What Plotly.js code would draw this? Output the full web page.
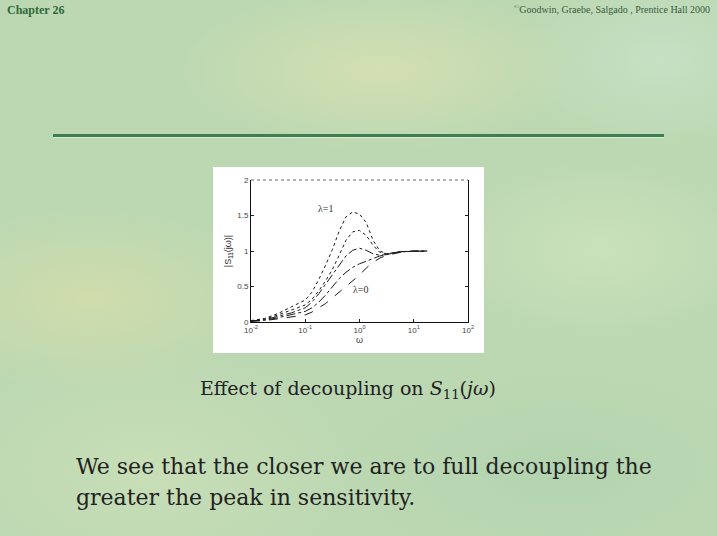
<!DOCTYPE html>
<html>
<head>
<meta charset="utf-8">
<script src="https://cdn.plot.ly/plotly-3.0.1.min.js"></script>
<style>
html,body{margin:0;padding:0;width:717px;height:536px;overflow:hidden;}
body{
 background-color:#bcd8b2;
 background-image:
  radial-gradient(ellipse 180px 90px at 90px 300px, rgba(215,222,170,0.75), rgba(215,222,170,0) 100%),
  radial-gradient(ellipse 200px 80px at 380px 70px, rgba(222,226,178,0.7), rgba(222,226,178,0) 100%),
  radial-gradient(ellipse 160px 90px at 600px 250px, rgba(205,228,190,0.8), rgba(205,228,190,0) 100%),
  radial-gradient(ellipse 220px 100px at 560px 470px, rgba(175,210,175,0.7), rgba(175,210,175,0) 100%),
  radial-gradient(ellipse 200px 120px at 150px 470px, rgba(205,225,185,0.7), rgba(205,225,185,0) 100%),
  radial-gradient(ellipse 150px 90px at 660px 60px, rgba(200,226,200,0.8), rgba(200,226,200,0) 100%);
}
#chart{position:absolute;left:0;top:0;width:717px;height:536px;}
</style>
</head>
<body>
<div id="chart"></div>
<script>
// frequency points (rad/s)
var omega = [0.01, 0.0178, 0.0316, 0.0562, 0.1, 0.133, 0.178, 0.237, 0.316, 0.422, 0.562, 0.75, 1, 1.33, 1.78, 2.37, 3.16, 5.62, 10, 17.8];
// |S11(jw)| for lambda = 1 ... 0
var s_lam1  = [0.02, 0.05, 0.12, 0.21, 0.31, 0.42, 0.60, 0.80, 1.02, 1.28, 1.48, 1.55, 1.52, 1.40, 1.15, 1.00, 0.96, 0.99, 1.00, 1.00];
var s_lam2  = [0.017, 0.04, 0.10, 0.17, 0.24, 0.32, 0.44, 0.58, 0.74, 0.94, 1.15, 1.27, 1.29, 1.22, 1.08, 0.98, 0.96, 0.99, 1.00, 1.00];
var s_lam3  = [0.014, 0.03, 0.08, 0.13, 0.20, 0.28, 0.40, 0.53, 0.67, 0.81, 0.93, 1.01, 1.04, 1.01, 0.96, 0.94, 0.95, 0.99, 1.00, 1.00];
var s_lam4  = [0.012, 0.025, 0.06, 0.10, 0.15, 0.20, 0.28, 0.38, 0.49, 0.61, 0.70, 0.77, 0.82, 0.86, 0.90, 0.93, 0.95, 0.99, 1.00, 1.00];
var s_lam5  = [0.01, 0.02, 0.045, 0.07, 0.10, 0.14, 0.20, 0.26, 0.34, 0.42, 0.50, 0.58, 0.66, 0.76, 0.84, 0.90, 0.94, 0.98, 1.00, 1.00];
var seriesList = [s_lam1, s_lam2, s_lam3, s_lam4, s_lam5];
var dashes = ['dot', 'dot', 'dashdot', 'dashdot', 'dash'];

var xTickVals = [0.01, 0.1, 1, 10, 100];
var xTickText = ['10<sup>-2</sup>', '10<sup>-1</sup>', '10<sup>0</sup>', '10<sup>1</sup>', '10<sup>2</sup>'];
var yTickVals = [0, 0.5, 1, 1.5, 2];
var yTickText = ['0', '0.5', '1', '1.5', '2'];

var W = 717, H = 536;
function px(x){return x / W;}
function py(y){return 1 - y / H;}

var serif = 'DejaVu Serif, serif';

var traces = seriesList.map(function(s, i){
  return {x: omega, y: s, type: 'scatter', mode: 'lines',
          line: {color: '#1a1a1a', width: 1, dash: dashes[i]},
          showlegend: false, hoverinfo: 'skip'};
});

var layout = {
  width: W, height: H,
  margin: {l: 0, r: 0, t: 0, b: 0},
  paper_bgcolor: 'rgba(0,0,0,0)',
  plot_bgcolor: 'rgba(0,0,0,0)',
  showlegend: false,
  xaxis: {
    type: 'log', range: [-2, 2], domain: [px(251), px(468)],
    tickvals: xTickVals, ticktext: xTickText,
    ticks: 'inside', ticklen: 3, tickcolor: '#222',
    showgrid: false, zeroline: false,
    showline: true, linecolor: '#111', linewidth: 1, mirror: false,
    tickfont: {family: 'Liberation Sans, Arial, sans-serif', size: 8, color: '#444'},
    title: {text: 'ω', font: {family: 'Liberation Sans, Arial, sans-serif', size: 9, color: '#444'}, standoff: 1},
    fixedrange: true
  },
  yaxis: {
    range: [0, 2], domain: [py(322), py(180)],
    tickvals: yTickVals, ticktext: yTickText,
    ticks: 'inside', ticklen: 3, tickcolor: '#222',
    showgrid: false, zeroline: false,
    showline: true, linecolor: '#111', linewidth: 1, mirror: 'ticks',
    tickfont: {family: 'Liberation Sans, Arial, sans-serif', size: 8, color: '#444'},
    title: {text: '|S<sub>11</sub>(jω)|', font: {family: 'Liberation Sans, Arial, sans-serif', size: 9, color: '#333'}, standoff: 4},
    fixedrange: true
  },
  shapes: [
    {type: 'rect', xref: 'paper', yref: 'paper', x0: px(213), x1: px(484), y0: py(353), y1: py(167),
     fillcolor: '#ffffff', line: {width: 0}, layer: 'below'},
    {type: 'line', xref: 'paper', yref: 'paper', x0: px(251), x1: px(468), y0: py(180), y1: py(180),
     line: {color: '#666', width: 1, dash: 'dot'}},
    {type: 'rect', xref: 'paper', yref: 'paper', x0: px(53), x1: px(664), y0: py(138), y1: py(137),
     fillcolor: 'rgba(240,250,235,0.6)', line: {width: 0}},
    {type: 'rect', xref: 'paper', yref: 'paper', x0: px(53), x1: px(664), y0: py(137), y1: py(134),
     fillcolor: '#3f7d52', line: {width: 0}}
  ],
  annotations: [
    {x: -0.62, y: 1.6, xref: 'x', yref: 'y', text: 'λ=1', showarrow: false,
     font: {family: 'Liberation Serif, serif', size: 10, color: '#333'}},
    {x: 0.03, y: 0.46, xref: 'x', yref: 'y', text: 'λ=0', showarrow: false,
     font: {family: 'Liberation Serif, serif', size: 10, color: '#333'}},
    {x: px(5), y: py(10), xref: 'paper', yref: 'paper', xanchor: 'left', yanchor: 'middle',
     text: '<b>Chapter 26</b>', showarrow: false,
     font: {family: 'Liberation Serif, serif', size: 12, color: '#2f6a3c'}},
    {x: px(712), y: py(9), xref: 'paper', yref: 'paper', xanchor: 'right', yanchor: 'middle',
     text: '<sup>©</sup>Goodwin, Graebe, Salgado , Prentice Hall 2000', showarrow: false,
     font: {family: 'Liberation Serif, serif', size: 10, color: '#3a5a40'}},
    {x: px(348), y: py(389), xref: 'paper', yref: 'paper', xanchor: 'center', yanchor: 'middle',
     text: 'Effect of decoupling on <i>S</i><sub>11</sub>(<i>jω</i>)', showarrow: false,
     font: {family: serif, size: 19, color: '#222'}},
    {x: px(74), y: py(466), xref: 'paper', yref: 'paper', xanchor: 'left', yanchor: 'middle',
     text: 'We see that the closer we are to full decoupling the', showarrow: false,
     font: {family: serif, size: 22, color: '#222'}},
    {x: px(74), y: py(497), xref: 'paper', yref: 'paper', xanchor: 'left', yanchor: 'middle',
     text: 'greater the peak in sensitivity.', showarrow: false,
     font: {family: serif, size: 22, color: '#222'}}
  ]
};

Plotly.newPlot('chart', traces, layout, {displayModeBar: false, staticPlot: true});
</script>
</body>
</html>
